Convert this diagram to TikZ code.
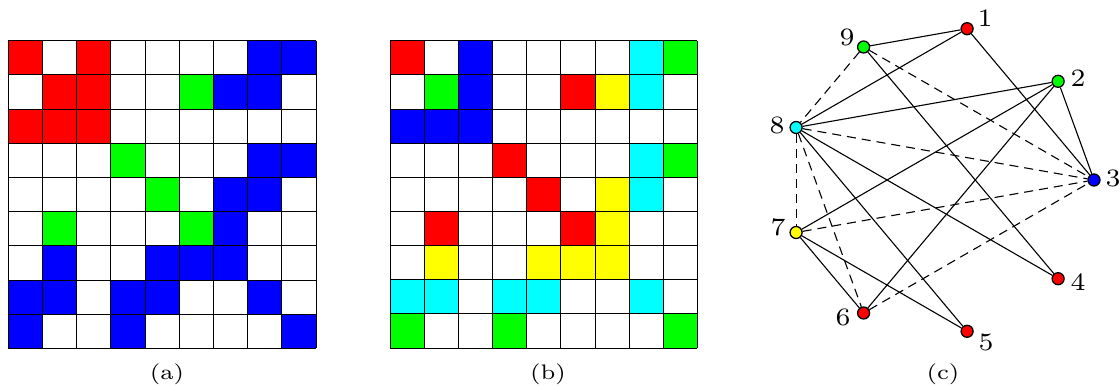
\documentclass[tikz,border=0pt]{standalone}
\usepackage{graphicx}
\font\capfnt=[lmroman7-regular] at 21pt
\font\numfnt=[lmroman7-regular] at 25pt
\definecolor{pcyan}{RGB}{0,255,255}
\definecolor{pgreen}{RGB}{0,255,0}
\definecolor{pred}{RGB}{255,0,0}
\definecolor{pblue}{RGB}{0,0,255}
\definecolor{pyellow}{RGB}{255,255,0}
\begin{document}
\begin{tikzpicture}[x=1pt,y=-1pt,
  vtx/.style={circle,draw=black,line width=1.3pt,minimum size=12pt,inner sep=0pt},
  numtxt/.style={inner sep=0pt,font=\numfnt},
  captxt/.style={inner sep=0pt,font=\capfnt},
  solidedge/.style={line width=1.1pt},
  dashedge/.style={line width=1.1pt,dash pattern=on 9pt off 6pt},
  gline/.style={line width=0.8pt}]
\useasboundingbox (0,0) rectangle (1120,387);
% ---------- grid (a)
\begin{scope}[shift={(8.3,40.7)},x=34.19pt,y=-34.19pt]
\foreach \c/\r/\col in {1/1/pred,3/1/pred,8/1/pblue,9/1/pblue,
  2/2/pred,3/2/pred,6/2/pgreen,7/2/pblue,8/2/pblue,
  1/3/pred,2/3/pred,3/3/pred,
  4/4/pgreen,8/4/pblue,9/4/pblue,
  5/5/pgreen,7/5/pblue,8/5/pblue,
  2/6/pgreen,6/6/pgreen,7/6/pblue,
  2/7/pblue,5/7/pblue,6/7/pblue,7/7/pblue,
  1/8/pblue,2/8/pblue,4/8/pblue,5/8/pblue,8/8/pblue,
  1/9/pblue,4/9/pblue,9/9/pblue}
  \fill[\col] (\c-1,\r-1) rectangle (\c,\r);
\foreach \i in {0,...,9} {
  \draw[gline] (\i,0) -- (\i,9);
  \draw[gline] (0,\i) -- (9,\i);
}
\end{scope}
% ---------- grid (b)
\begin{scope}[shift={(390,40.7)},x=34.15pt,y=-34.15pt]
\foreach \c/\r/\col in {1/1/pred,3/1/pblue,8/1/pcyan,9/1/pgreen,
  2/2/pgreen,3/2/pblue,6/2/pred,7/2/pyellow,8/2/pcyan,
  1/3/pblue,2/3/pblue,3/3/pblue,
  4/4/pred,8/4/pcyan,9/4/pgreen,
  5/5/pred,7/5/pyellow,8/5/pcyan,
  2/6/pred,6/6/pred,7/6/pyellow,
  2/7/pyellow,5/7/pyellow,6/7/pyellow,7/7/pyellow,
  1/8/pcyan,2/8/pcyan,4/8/pcyan,5/8/pcyan,8/8/pcyan,
  1/9/pgreen,4/9/pgreen,9/9/pgreen}
  \fill[\col] (\c-1,\r-1) rectangle (\c,\r);
\foreach \i in {0,...,9} {
  \draw[gline] (\i,0) -- (\i,9);
  \draw[gline] (0,\i) -- (9,\i);
}
\end{scope}
% ---------- graph (c)
\node[vtx,fill=pred]    (n1) at (967.1,28.7) {};
\node[vtx,fill=pgreen]  (n2) at (1058.1,81.3) {};
\node[vtx,fill=pblue]   (n3) at (1094,180) {};
\node[vtx,fill=pred]    (n4) at (1058.1,278.7) {};
\node[vtx,fill=pred]    (n5) at (967.1,331.3) {};
\node[vtx,fill=pred]    (n6) at (863.6,313.0) {};
\node[vtx,fill=pyellow] (n7) at (796.1,232.5) {};
\node[vtx,fill=pcyan]   (n8) at (796.1,127.5) {};
\node[vtx,fill=pgreen]  (n9) at (863.6,47.0) {};
\draw[solidedge] (n9) -- (n1);
\draw[solidedge] (n1) -- (n8);
\draw[solidedge] (n1) -- (n3);
\draw[solidedge] (n9) -- (n4);
\draw[solidedge] (n2) -- (n8);
\draw[solidedge] (n2) -- (n7);
\draw[solidedge] (n2) -- (n6);
\draw[solidedge] (n2) -- (n3);
\draw[solidedge] (n8) -- (n4);
\draw[solidedge] (n8) -- (n5);
\draw[solidedge] (n7) -- (n6);
\draw[solidedge] (n7) -- (n5);
\draw[dashedge] (n9) -- (n8);
\draw[dashedge] (n9) -- (n3);
\draw[dashedge] (n8) -- (n3);
\draw[dashedge] (n8) -- (n7);
\draw[dashedge] (n8) -- (n6);
\draw[dashedge] (n7) -- (n3);
\draw[dashedge] (n6) -- (n3);
\node[numtxt] (l1) at (985,18) {\scalebox{1.05}[1]{1}};
\node[numtxt] (l2) at (1078,78) {\scalebox{1.05}[1]{2}};
\node[numtxt] (l3) at (1113,178) {\scalebox{1.05}[1]{3}};
\node[numtxt] (l4) at (1078,282) {\scalebox{1.05}[1]{4}};
\node[numtxt] (l5) at (986,342) {\scalebox{1.05}[1]{5}};
\node[numtxt] (l6) at (843,317) {\scalebox{1.05}[1]{6}};
\node[numtxt] (l7) at (778,227) {\scalebox{1.05}[1]{7}};
\node[numtxt] (l8) at (777,125) {\scalebox{1.05}[1]{8}};
\node[numtxt] (l9) at (847,37) {\scalebox{1.05}[1]{9}};
% ---------- captions
\node[captxt] (ca) at (167,374) {\scalebox{1.12}[1]{(a)}};
\node[captxt] (cb) at (548,374) {\scalebox{1.12}[1]{(b)}};
\node[captxt] (cc) at (943,374) {\scalebox{1.12}[1]{(c)}};
\end{tikzpicture}
\end{document}
